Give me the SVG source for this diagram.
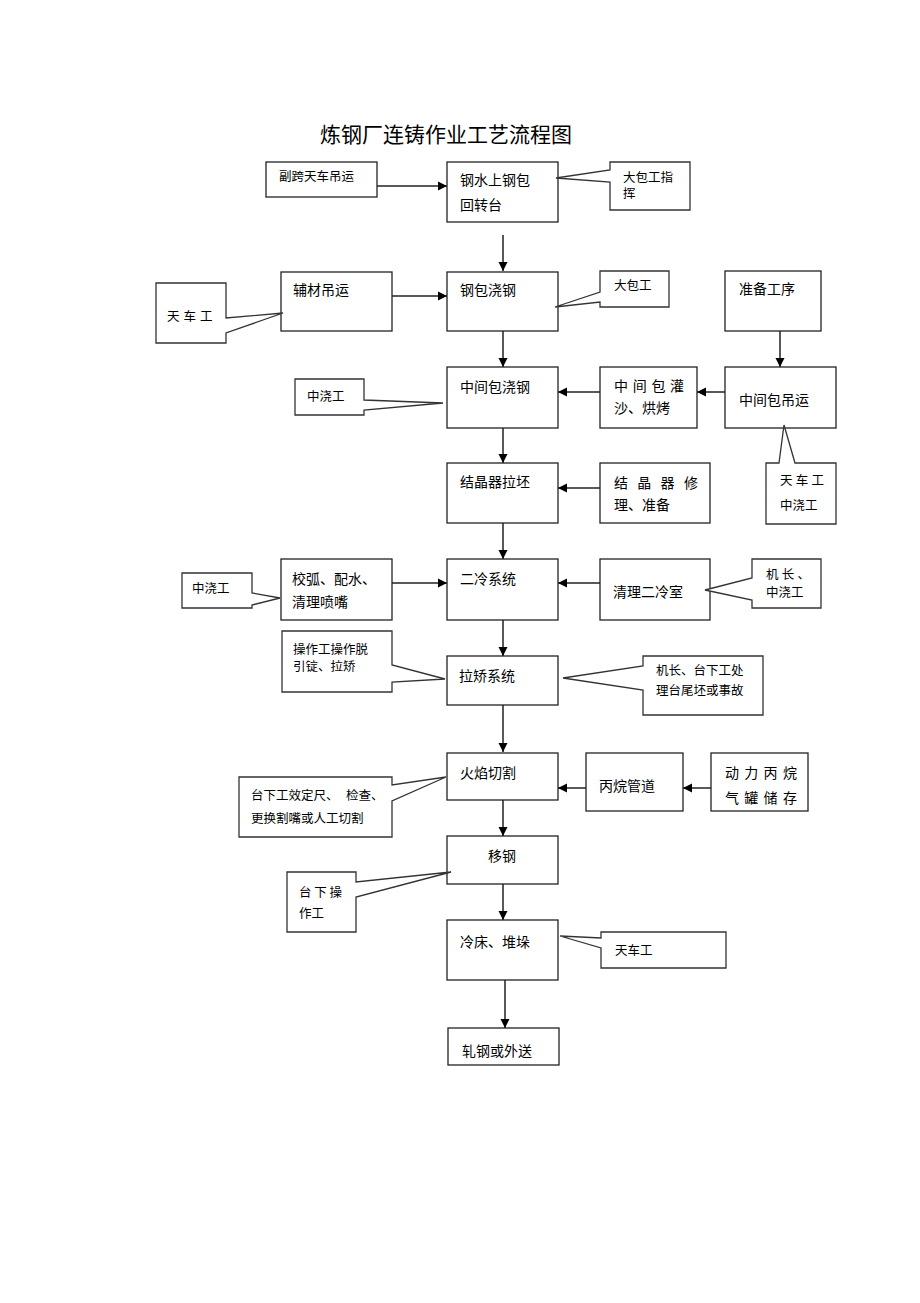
<svg xmlns="http://www.w3.org/2000/svg" width="920" height="1303" viewBox="0 0 920 1303">
<style>
  .box{fill:#fff;stroke:#222;stroke-width:1.3}
  .co{fill:#fff;stroke:#333;stroke-width:1.3;stroke-linejoin:miter}
  .t{font-family:"Liberation Sans","Noto Sans CJK SC",sans-serif;font-size:14px;fill:#000}
  .s{font-family:"Liberation Sans","Noto Sans CJK SC",sans-serif;font-size:12.5px;fill:#000}
  .title{font-family:"Liberation Sans","Noto Sans CJK SC",sans-serif;font-size:21px;fill:#000}
  .ln{stroke:#222;stroke-width:1.5;fill:none;marker-end:url(#ah)}
</style>
<defs>
  <marker id="ah" viewBox="0 0 10 10" refX="10" refY="5" markerUnits="userSpaceOnUse" markerWidth="9" markerHeight="10" orient="auto">
    <path d="M0,0 L10,5 L0,10 Z" fill="#000"/>
  </marker>
</defs>
<rect width="920" height="1303" fill="#fff"/>
<text class="title" x="320" y="142">炼钢厂连铸作业工艺流程图</text>

<g id="connectors">
  <line class="ln" x1="377" y1="186" x2="447" y2="186"/>
  <line class="ln" x1="503" y1="235" x2="503" y2="271"/>
  <line class="ln" x1="392" y1="296" x2="447" y2="296"/>
  <line class="ln" x1="503" y1="331" x2="503" y2="367"/>
  <line class="ln" x1="780" y1="331" x2="780" y2="367"/>
  <line class="ln" x1="725" y1="392" x2="697" y2="392"/>
  <line class="ln" x1="600" y1="392" x2="558" y2="392"/>
  <line class="ln" x1="503" y1="428" x2="503" y2="463"/>
  <line class="ln" x1="600" y1="488" x2="558" y2="488"/>
  <line class="ln" x1="503" y1="523" x2="503" y2="559"/>
  <line class="ln" x1="392" y1="583" x2="447" y2="583"/>
  <line class="ln" x1="600" y1="583" x2="558" y2="583"/>
  <line class="ln" x1="503" y1="620" x2="503" y2="656"/>
  <line class="ln" x1="503" y1="705" x2="503" y2="752"/>
  <line class="ln" x1="711" y1="788" x2="683" y2="788"/>
  <line class="ln" x1="586" y1="788" x2="558" y2="788"/>
  <line class="ln" x1="503" y1="800" x2="503" y2="836"/>
  <line class="ln" x1="503" y1="884" x2="503" y2="920"/>
  <line class="ln" x1="505" y1="980" x2="505" y2="1028"/>
</g>

<g id="n_fukua">
  <rect class="box" x="266" y="162" width="111" height="35"/>
  <text class="s" x="279" y="181">副跨天车吊运</text>
</g>
<g id="n_gangshui">
  <rect class="box" x="447" y="162" width="111" height="60"/>
  <text class="t" x="460" y="185">钢水上钢包</text>
  <text class="t" x="460" y="210">回转台</text>
</g>
<g id="c_dabaogong_zhihui">
  <path class="co" d="M610,162 H690 V210 H610 V182 L556,178 L610,170 Z"/>
  <text class="s" x="623" y="182">大包工指</text>
  <text class="s" x="623" y="198">挥</text>
</g>

<g id="n_fucai">
  <rect class="box" x="281" y="272" width="111" height="59"/>
  <text class="t" x="293" y="295">辅材吊运</text>
</g>
<g id="c_tianchegong1">
  <path class="co" d="M156,283 H226 V318 L283,313 L226,333 V343 H156 Z"/>
  <text class="s" x="167" y="321" letter-spacing="4">天车工</text>
</g>
<g id="n_gangbao">
  <rect class="box" x="447" y="272" width="111" height="59"/>
  <text class="t" x="460" y="295">钢包浇钢</text>
</g>
<g id="c_dabaogong">
  <path class="co" d="M600,271 H669 V307 H600 V302 L555,307 L600,292 Z"/>
  <text class="s" x="614" y="290">大包工</text>
</g>
<g id="n_zhunbei">
  <rect class="box" x="725" y="271" width="96" height="60"/>
  <text class="t" x="739" y="294">准备工序</text>
</g>

<g id="c_zhongjiaogong1">
  <path class="co" d="M295,379 H364 V400 L443,403 L364,410 V415 H295 Z"/>
  <text class="s" x="307" y="401">中浇工</text>
</g>
<g id="n_zhongjianbao">
  <rect class="box" x="447" y="367" width="111" height="61"/>
  <text class="t" x="460" y="392">中间包浇钢</text>
</g>
<g id="n_guansha">
  <rect class="box" x="600" y="367" width="97" height="61"/>
  <text class="t" x="614" y="391" letter-spacing="4.7">中间包灌</text>
  <text class="t" x="614" y="413">沙、烘烤</text>
</g>
<g id="n_diaoyun">
  <rect class="box" x="725" y="367" width="111" height="61"/>
  <text class="t" x="739" y="405">中间包吊运</text>
</g>

<g id="n_jiejingqi">
  <rect class="box" x="447" y="463" width="111" height="60"/>
  <text class="t" x="460" y="487">结晶器拉坯</text>
</g>
<g id="n_xiuli">
  <rect class="box" x="600" y="463" width="110" height="60"/>
  <text class="t" x="614" y="488" letter-spacing="9.3">结晶器修</text>
  <text class="t" x="614" y="510">理、准备</text>
</g>
<g id="c_tianche_zhongjiao">
  <path class="co" d="M766,463 H779 L784,425 L795,463 H836 V524 H766 Z"/>
  <text class="s" x="780" y="485" letter-spacing="3.2">天车工</text>
  <text class="s" x="780" y="510">中浇工</text>
</g>

<g id="c_zhongjiaogong2">
  <path class="co" d="M182,573 H252 V593 L280,598 L252,605 V608 H182 Z"/>
  <text class="s" x="192" y="593">中浇工</text>
</g>
<g id="n_jiaohu">
  <rect class="box" x="281" y="559" width="111" height="61"/>
  <text class="t" x="292" y="584">校弧、配水、</text>
  <text class="t" x="292" y="607">清理喷嘴</text>
</g>
<g id="n_erleng">
  <rect class="box" x="447" y="559" width="111" height="61"/>
  <text class="t" x="460" y="584">二冷系统</text>
</g>
<g id="n_qingli">
  <rect class="box" x="600" y="559" width="110" height="61"/>
  <text class="t" x="613" y="597">清理二冷室</text>
</g>
<g id="c_jizhang1">
  <path class="co" d="M752,559 H821 V608 H752 V600 L705,590 L752,578 Z"/>
  <text class="s" x="766" y="579" letter-spacing="3.2">机长、</text>
  <text class="s" x="766" y="597">中浇工</text>
</g>

<g id="c_caozuogong">
  <path class="co" d="M282,631 H392 V665 L445,679 L392,682 V692 H282 Z"/>
  <text class="s" x="293" y="654">操作工操作脱</text>
  <text class="s" x="293" y="671">引锭、拉矫</text>
</g>
<g id="n_lajiao">
  <rect class="box" x="447" y="656" width="111" height="49"/>
  <text class="t" x="459" y="681">拉矫系统</text>
</g>
<g id="c_jizhang2">
  <path class="co" d="M643,656 H763 V715 H643 V690 L563,678 L643,666 Z"/>
  <text class="s" x="656" y="675">机长、台下工处</text>
  <text class="s" x="656" y="695">理台尾坯或事故</text>
</g>

<g id="c_taixiagong">
  <path class="co" d="M239,777 H392 V785 L446,777 L392,801 V837 H239 Z"/>
  <text class="s" x="251" y="800">台下工效定尺、<tspan x="346">检查、</tspan></text>
  <text class="s" x="251" y="823">更换割嘴或人工切割</text>
</g>
<g id="n_huoyan">
  <rect class="box" x="447" y="753" width="111" height="47"/>
  <text class="t" x="460" y="778">火焰切割</text>
</g>
<g id="n_bingwan">
  <rect class="box" x="586" y="753" width="97" height="58"/>
  <text class="t" x="599" y="791">丙烷管道</text>
</g>
<g id="n_dongli">
  <rect class="box" x="711" y="753" width="97" height="58"/>
  <text class="t" x="725" y="778" letter-spacing="5.3">动力丙烷</text>
  <text class="t" x="725" y="803" letter-spacing="5.3">气罐储存</text>
</g>

<g id="n_yigang">
  <rect class="box" x="447" y="836" width="111" height="48"/>
  <text class="t" x="488" y="861">移钢</text>
</g>
<g id="c_taixiacao">
  <path class="co" d="M287,872 H356 V882 L451,872 L356,897 V932 H287 Z"/>
  <text class="s" x="299" y="897" letter-spacing="2.7">台下操</text>
  <text class="s" x="299" y="918">作工</text>
</g>

<g id="n_lengchuang">
  <rect class="box" x="447" y="920" width="111" height="60"/>
  <text class="t" x="460" y="947">冷床、堆垛</text>
</g>
<g id="c_tianchegong3">
  <path class="co" d="M601,932 H726 V968 H601 V948 L560,936 L601,938 Z"/>
  <text class="s" x="615" y="955">天车工</text>
</g>

<g id="n_zhagang">
  <rect class="box" x="448" y="1028" width="111" height="37"/>
  <text class="t" x="462" y="1056">轧钢或外送</text>
</g>
</svg>
